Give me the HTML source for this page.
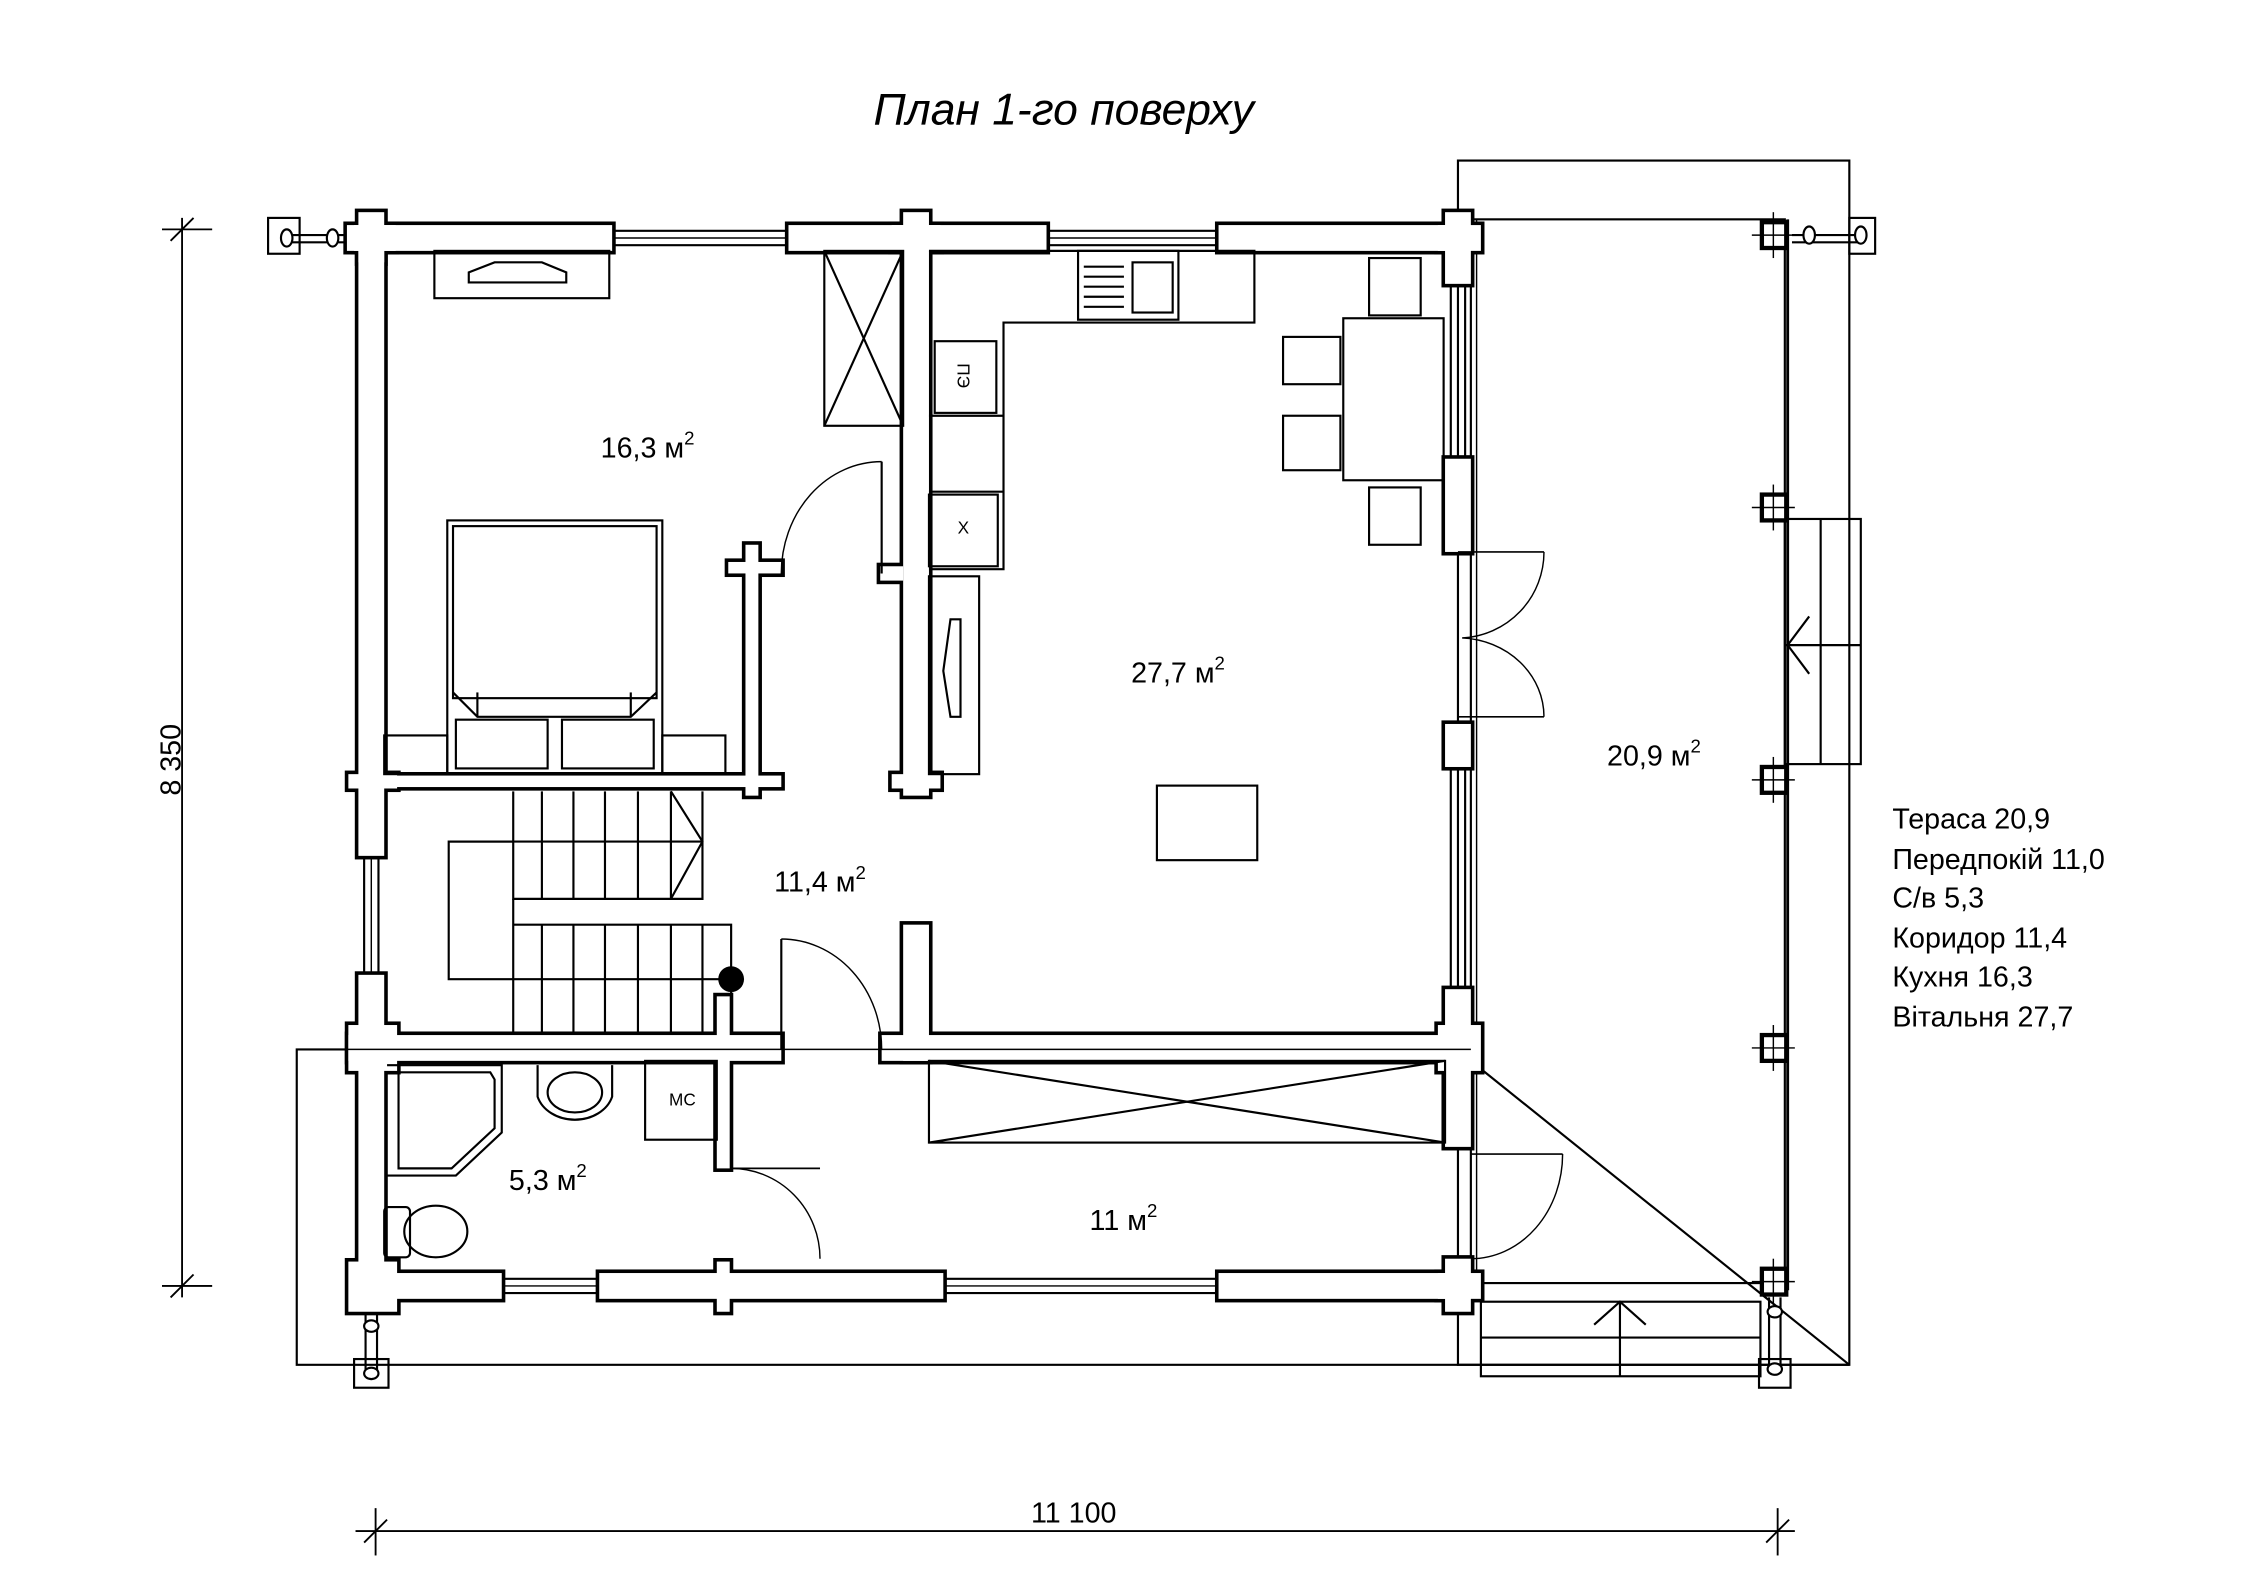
<!DOCTYPE html>
<html><head><meta charset="utf-8"><style>
html,body{margin:0;padding:0;background:#fff;}
svg{display:block;}
text{font-family:"Liberation Sans",sans-serif;fill:#000;}
</style></head><body>
<svg width="2245" height="1587" viewBox="0 0 1566 1107" preserveAspectRatio="none" xmlns="http://www.w3.org/2000/svg">
<rect width="1566" height="1107" fill="#fff"/>
<text x="742" y="87" font-size="31" font-style="italic" text-anchor="middle">План 1-го поверху</text>

<g fill="none" stroke="#000" stroke-width="1.5">
<rect x="1017" y="112" width="273" height="840"/>
<polyline points="250,732 207,732 207,952 1290,952"/>
<line x1="1026" y1="740" x2="1290" y2="952"/>
<rect x="1026" y="153" width="219" height="742"/>
<line x1="1030" y1="153" x2="1030" y2="895" stroke-width="1"/>
<rect x="1245" y="362" width="53" height="171"/>
<line x1="1270" y1="362" x2="1270" y2="533"/>
<line x1="1245" y1="450" x2="1298" y2="450"/>
<polyline points="1262,430 1247,450 1262,470"/>
<rect x="1033" y="908" width="195" height="52"/>
<line x1="1033" y1="933" x2="1228" y2="933"/>
<line x1="1130" y1="908" x2="1130" y2="960"/>
<polyline points="1112,924 1130,908 1148,924"/>
<rect x="187" y="152" width="22" height="25"/>
<rect x="1290" y="152" width="18" height="25"/>
<rect x="247" y="948" width="24" height="20"/>
<rect x="1227" y="948" width="22" height="20"/>
<line x1="200" y1="164" x2="243" y2="164"/>
<line x1="200" y1="169" x2="243" y2="169"/>
<line x1="1250" y1="164" x2="1300" y2="164"/>
<line x1="1250" y1="169" x2="1300" y2="169"/>
<line x1="255" y1="915" x2="255" y2="958"/>
<line x1="263" y1="915" x2="263" y2="958"/>
<line x1="1234" y1="905" x2="1234" y2="958"/>
<line x1="1242" y1="905" x2="1242" y2="958"/>
</g>
<g fill="#fff" stroke="#000" stroke-width="1.5">
<ellipse cx="200" cy="166" rx="4" ry="6"/><ellipse cx="232" cy="166" rx="4" ry="6"/>
<ellipse cx="1298" cy="164" rx="4" ry="6"/><ellipse cx="1262" cy="164" rx="4" ry="6"/>
<ellipse cx="259" cy="925" rx="5" ry="4"/><ellipse cx="259" cy="958" rx="5" ry="4"/>
<ellipse cx="1238" cy="915" rx="5" ry="4"/><ellipse cx="1238" cy="955" rx="5" ry="4"/>
</g>

<g stroke="#000" stroke-width="1.3" fill="none">
<line x1="127" y1="152" x2="127" y2="905"/>
<line x1="113" y1="160" x2="148" y2="160"/>
<line x1="113" y1="897" x2="148" y2="897"/>
<line x1="119" y1="168" x2="135" y2="152"/>
<line x1="119" y1="905" x2="135" y2="889"/>
<line x1="248" y1="1068" x2="1252" y2="1068"/>
<line x1="262" y1="1052" x2="262" y2="1085"/>
<line x1="1240" y1="1052" x2="1240" y2="1085"/>
<line x1="254" y1="1076" x2="270" y2="1060"/>
<line x1="1232" y1="1076" x2="1248" y2="1060"/>
</g>
<text x="0" y="0" font-size="20" text-anchor="middle" transform="translate(126,530) rotate(-90)">8 350</text>
<text x="749" y="1062" font-size="20" text-anchor="middle">11 100</text>

<g fill="none" stroke="#000" stroke-width="1.5">
<line x1="427" y1="161" x2="550" y2="161"/><line x1="427" y1="171" x2="550" y2="171"/><line x1="427" y1="166" x2="550" y2="166" stroke-width="1"/>
<line x1="730" y1="161" x2="850" y2="161"/><line x1="730" y1="171" x2="850" y2="171"/><line x1="730" y1="166" x2="850" y2="166" stroke-width="1"/>
<line x1="350" y1="892" x2="418" y2="892"/><line x1="350" y1="902" x2="418" y2="902"/><line x1="350" y1="897" x2="418" y2="897" stroke-width="1"/>
<line x1="657" y1="892" x2="850" y2="892"/><line x1="657" y1="902" x2="850" y2="902"/><line x1="657" y1="897" x2="850" y2="897" stroke-width="1"/>
<line x1="254" y1="597" x2="254" y2="680"/><line x1="264" y1="597" x2="264" y2="680"/><line x1="259" y1="597" x2="259" y2="680" stroke-width="1"/>
<line x1="1012" y1="198" x2="1012" y2="322"/><line x1="1022" y1="198" x2="1022" y2="322"/><line x1="1017" y1="198" x2="1017" y2="322" stroke-width="1"/>
<line x1="1012" y1="535" x2="1012" y2="692"/><line x1="1022" y1="535" x2="1022" y2="692"/><line x1="1017" y1="535" x2="1017" y2="692" stroke-width="1"/>
<line x1="1017" y1="385" x2="1017" y2="505" stroke-width="1"/>
<line x1="1017" y1="800" x2="1017" y2="878" stroke-width="1"/>
</g>

<g stroke="#000" stroke-width="5" fill="#000">
<rect x="247" y="157" width="180" height="18"/><rect x="550" y="157" width="180" height="18"/><rect x="850" y="157" width="176" height="18"/>
<rect x="250" y="148" width="18" height="35"/><rect x="242" y="157" width="34" height="18"/>
<rect x="630" y="148" width="18" height="407"/><rect x="622" y="157" width="34" height="18"/>
<rect x="1008" y="148" width="18" height="50"/><rect x="1003" y="157" width="30" height="18"/>
<rect x="250" y="157" width="18" height="440"/><rect x="250" y="680" width="18" height="230"/>
<rect x="243" y="540" width="34" height="10"/><rect x="250" y="541" width="295" height="8"/>
<rect x="520" y="380" width="9" height="175"/><rect x="508" y="392" width="37" height="8"/>
<rect x="614" y="395" width="16" height="10"/>
<rect x="622" y="540" width="34" height="10"/>
<rect x="243" y="722" width="302" height="18"/><rect x="615" y="722" width="411" height="18"/>
<rect x="243" y="715" width="34" height="32"/>
<rect x="630" y="645" width="18" height="95"/>
<rect x="500" y="695" width="9" height="120"/>
<rect x="1008" y="320" width="18" height="65"/><rect x="1008" y="505" width="18" height="30"/>
<rect x="1008" y="690" width="18" height="110"/><rect x="1003" y="715" width="30" height="32"/>
<rect x="1008" y="878" width="18" height="37"/><rect x="1003" y="888" width="30" height="18"/>
<rect x="250" y="888" width="100" height="18"/><rect x="418" y="888" width="240" height="18"/><rect x="850" y="888" width="176" height="18"/>
<rect x="243" y="880" width="34" height="35"/><rect x="500" y="880" width="9" height="35"/>
</g>
<g fill="#fff" stroke="none">
<rect x="247" y="157" width="180" height="18"/><rect x="550" y="157" width="180" height="18"/><rect x="850" y="157" width="176" height="18"/>
<rect x="250" y="148" width="18" height="35"/><rect x="242" y="157" width="34" height="18"/>
<rect x="630" y="148" width="18" height="407"/><rect x="622" y="157" width="34" height="18"/>
<rect x="1008" y="148" width="18" height="50"/><rect x="1003" y="157" width="30" height="18"/>
<rect x="250" y="157" width="18" height="440"/><rect x="250" y="680" width="18" height="230"/>
<rect x="243" y="540" width="34" height="10"/><rect x="250" y="541" width="295" height="8"/>
<rect x="520" y="380" width="9" height="175"/><rect x="508" y="392" width="37" height="8"/>
<rect x="614" y="395" width="16" height="10"/>
<rect x="622" y="540" width="34" height="10"/>
<rect x="243" y="722" width="302" height="18"/><rect x="615" y="722" width="411" height="18"/>
<rect x="243" y="715" width="34" height="32"/>
<rect x="630" y="645" width="18" height="95"/>
<rect x="500" y="695" width="9" height="120"/>
<rect x="1008" y="320" width="18" height="65"/><rect x="1008" y="505" width="18" height="30"/>
<rect x="1008" y="690" width="18" height="110"/><rect x="1003" y="715" width="30" height="32"/>
<rect x="1008" y="878" width="18" height="37"/><rect x="1003" y="888" width="30" height="18"/>
<rect x="250" y="888" width="100" height="18"/><rect x="418" y="888" width="240" height="18"/><rect x="850" y="888" width="176" height="18"/>
<rect x="243" y="880" width="34" height="35"/><rect x="500" y="880" width="9" height="35"/>
</g>
<line x1="207" y1="732" x2="1026" y2="732" stroke="#000" stroke-width="1"/>

<g fill="#fff" stroke="#000" stroke-width="3">
<rect x="1229" y="155" width="17" height="18"/><rect x="1229" y="345" width="17" height="18"/>
<rect x="1229" y="535" width="17" height="18"/><rect x="1229" y="722" width="17" height="18"/>
<rect x="1229" y="885" width="17" height="18"/>
</g>
<g stroke="#000" stroke-width="1" fill="none">
<line x1="1247" y1="153" x2="1247" y2="900" stroke-width="2"/>
<line x1="1222" y1="164" x2="1252" y2="164"/><line x1="1237" y1="148" x2="1237" y2="180"/>
<line x1="1222" y1="354" x2="1252" y2="354"/><line x1="1237" y1="338" x2="1237" y2="370"/>
<line x1="1222" y1="544" x2="1252" y2="544"/><line x1="1237" y1="528" x2="1237" y2="560"/>
<line x1="1222" y1="731" x2="1252" y2="731"/><line x1="1237" y1="715" x2="1237" y2="747"/>
<line x1="1222" y1="894" x2="1252" y2="894"/><line x1="1237" y1="878" x2="1237" y2="910"/>
</g>

<g fill="none" stroke="#000" stroke-width="1.5">
<rect x="303" y="175" width="122" height="33"/>
<path d="M327,190 L345,183 L378,183 L395,190 L395,197 L327,197 Z"/>
<rect x="575" y="175" width="55" height="122"/><line x1="575" y1="175" x2="630" y2="297"/><line x1="630" y1="175" x2="575" y2="297"/>
<rect x="312" y="363" width="150" height="177"/><rect x="316" y="367" width="142" height="120"/>
<path d="M316,483 L333,500 L440,500 L458,483"/><line x1="333" y1="483" x2="333" y2="500"/><line x1="440" y1="483" x2="440" y2="500"/>
<rect x="318" y="502" width="64" height="34"/><rect x="392" y="502" width="64" height="34"/>
<rect x="268" y="513" width="44" height="27"/><rect x="462" y="513" width="44" height="27"/>
<polyline points="648,175 875,175 875,225 700,225 700,397 648,397"/>
<rect x="752" y="175" width="70" height="48"/><rect x="790" y="183" width="28" height="35"/>
<line x1="756" y1="186" x2="784" y2="186"/><line x1="756" y1="193" x2="784" y2="193"/><line x1="756" y1="200" x2="784" y2="200"/><line x1="756" y1="207" x2="784" y2="207"/><line x1="756" y1="214" x2="784" y2="214"/>
<rect x="652" y="238" width="43" height="50"/>
<line x1="648" y1="290" x2="700" y2="290"/><line x1="648" y1="343" x2="700" y2="343"/>
<rect x="648" y="345" width="48" height="50"/>
<rect x="648" y="402" width="35" height="138"/>
<path d="M663,432 L670,432 L670,500 L663,500 L658,468 Z"/>
<rect x="937" y="222" width="70" height="113"/>
<rect x="955" y="180" width="36" height="40"/><rect x="895" y="235" width="40" height="33"/>
<rect x="895" y="290" width="40" height="38"/><rect x="955" y="340" width="36" height="40"/>
<rect x="807" y="548" width="70" height="52"/>
<polyline points="358,552 358,627 490,627 490,552"/>
<line x1="378" y1="552" x2="378" y2="627"/><line x1="400" y1="552" x2="400" y2="627"/><line x1="422" y1="552" x2="422" y2="627"/><line x1="445" y1="552" x2="445" y2="627"/><line x1="468" y1="552" x2="468" y2="627"/>
<polyline points="468,552 490,587 468,627"/>
<line x1="313" y1="587" x2="490" y2="587"/>
<polyline points="358,587 313,587 313,683 510,683"/>
<polyline points="358,627 358,722"/><polyline points="358,645 510,645 510,722"/>
<line x1="378" y1="645" x2="378" y2="722"/><line x1="400" y1="645" x2="400" y2="722"/><line x1="422" y1="645" x2="422" y2="722"/><line x1="445" y1="645" x2="445" y2="722"/><line x1="468" y1="645" x2="468" y2="722"/><line x1="490" y1="645" x2="490" y2="722"/>
<path d="M270,743 L350,743 L350,790 L318,820 L270,820"/>
<path d="M278,748 L342,748 L345,753 L345,787 L315,815 L278,815 Z"/>
<path d="M375,743 L375,765 A27,22 0 0 0 427,765 L427,743"/>
<ellipse cx="401" cy="762" rx="19" ry="14"/>
<rect x="450" y="740" width="50" height="55"/>
<rect x="268" y="842" width="18" height="35" rx="3"/>
<ellipse cx="304" cy="859" rx="22" ry="18"/>
<rect x="648" y="740" width="360" height="57"/><line x1="648" y1="740" x2="1008" y2="797"/><line x1="648" y1="797" x2="1008" y2="740"/>
</g>
<circle cx="510" cy="683" r="9" fill="#000"/>

<g fill="none" stroke="#000" stroke-width="1">
<line x1="615" y1="322" x2="615" y2="400" stroke-width="1.5"/><path d="M615,322 A70,78 0 0 0 545,400"/>
<line x1="545" y1="655" x2="545" y2="732" stroke-width="1.5"/><path d="M545,655 A70,77 0 0 1 615,732"/>
<line x1="510" y1="815" x2="572" y2="815" stroke-width="1.2"/><path d="M510,815 A62,63 0 0 1 572,878"/>
<line x1="1017" y1="385" x2="1077" y2="385" stroke-width="1.2"/><path d="M1077,385 A60,60 0 0 1 1020,445"/>
<line x1="1017" y1="500" x2="1077" y2="500" stroke-width="1.2"/><path d="M1077,500 A60,55 0 0 0 1020,445"/>
<line x1="1026" y1="805" x2="1090" y2="805" stroke-width="1.2"/><path d="M1090,805 A64,73 0 0 1 1026,878"/>
</g>

<g font-size="12">
<text x="0" y="0" transform="translate(668,262) rotate(90)" text-anchor="middle">ПЭ</text>
<text x="672" y="372" text-anchor="middle">X</text>
<text x="476" y="771" text-anchor="middle">МС</text>
</g>

<g font-size="20">
<text x="419" y="319">16,3 м<tspan font-size="13" dy="-9">2</tspan></text>
<text x="789" y="476">27,7 м<tspan font-size="13" dy="-9">2</tspan></text>
<text x="540" y="622">11,4 м<tspan font-size="13" dy="-9">2</tspan></text>
<text x="1121" y="534">20,9 м<tspan font-size="13" dy="-9">2</tspan></text>
<text x="355" y="830">5,3 м<tspan font-size="13" dy="-9">2</tspan></text>
<text x="760" y="858">11 м<tspan font-size="13" dy="-9">2</tspan></text>
<text x="1320" y="578">Тераса 20,9</text>
<text x="1320" y="606">Передпокій 11,0</text>
<text x="1320" y="633">С/в 5,3</text>
<text x="1320" y="661">Коридор 11,4</text>
<text x="1320" y="688">Кухня 16,3</text>
<text x="1320" y="716">Вітальня 27,7</text>
</g>
</svg>
</body></html>
